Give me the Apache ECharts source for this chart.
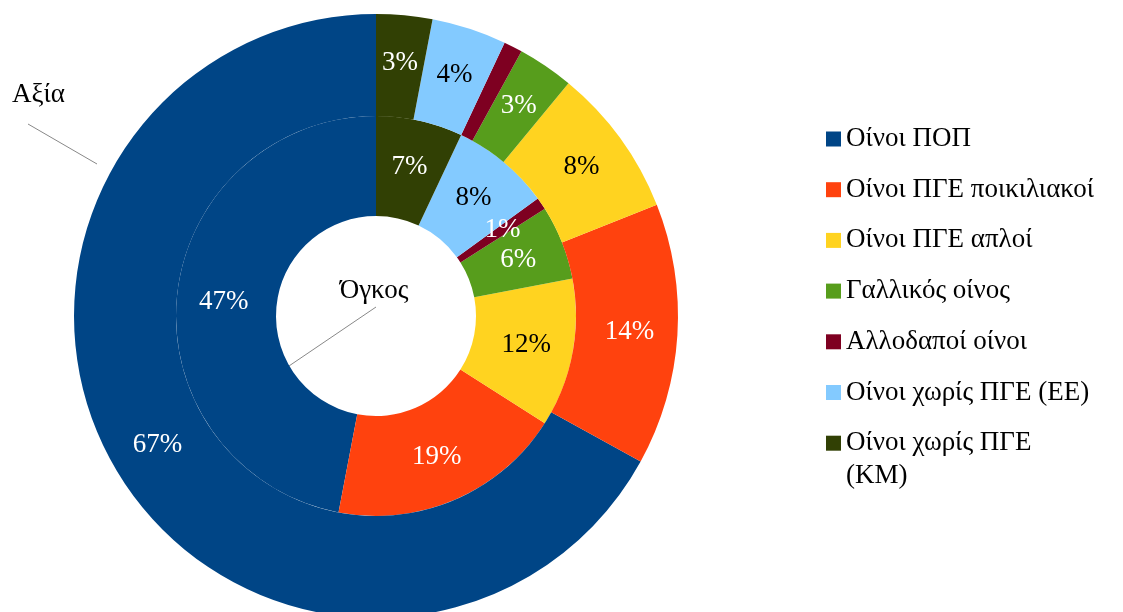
<!DOCTYPE html>
<html>
<head>
<meta charset="utf-8">
<script src="https://cdn.jsdelivr.net/npm/echarts@6/dist/echarts.min.js"></script>
<style>
html,body{margin:0;padding:0;background:#fff;}
#chart{width:1123px;height:612px;}
</style>
</head>
<body>
<div id="chart"></div>
<script>
var categories=['Οίνοι ΠΟΠ','Οίνοι ΠΓΕ ποικιλιακοί','Οίνοι ΠΓΕ απλοί','Γαλλικός οίνος','Αλλοδαποί οίνοι','Οίνοι χωρίς ΠΓΕ (ΕΕ)','Οίνοι χωρίς ΠΓΕ (ΚΜ)'];
var colors=['#004586','#ff420e','#ffd320','#579d1c','#7e0021','#83caff','#314004'];
var labelColors=['#fff','#fff','#000','#fff','#fff','#000','#fff'];
var volumeValues=[47,19,12,6,1,8,7];   // Όγκος (inner ring)
var valueValues=[67,14,8,3,1,4,3];     // Αξία (outer ring)

var font='Liberation Serif';
var fs=27;

function buildData(values){
	var arr=[];
	for(var i=0;i<values.length;i++){
		arr.push({
			name:categories[i],
			value:values[i],
			itemStyle:{color:colors[i]},
			label:{color:labelColors[i]}
		});
	}
	return arr;
}

function pieSeries(name,radius,values){
	return {
		name:name,
		type:'pie',
		center:[376,316],
		radius:radius,
		startAngle:90,
		clockwise:false,
		avoidLabelOverlap:false,
		label:{
			show:true,
			position:'inside',
			formatter:'{c}%',
			fontFamily:font,
			fontSize:fs
		},
		labelLine:{show:false},
		emphasis:{disabled:true},
		data:buildData(values)
	};
}

var mychart=echarts.init(document.getElementById('chart'));
var option={
	animation:false,
	legend:{
		orient:'vertical',
		left:821,
		top:116,
		itemWidth:15,
		itemHeight:15,
		itemGap:14.7,
		icon:'rect',
		textStyle:{fontFamily:font,fontSize:fs,color:'#000',lineHeight:36},
		formatter:function(name){
			//最后一项换行，第二行用graphic补上
			if(name=='Οίνοι χωρίς ΠΓΕ (ΚΜ)'){
				return 'Οίνοι χωρίς ΠΓΕ';
			}
			return name;
		},
		data:categories
	},
	graphic:[
		{type:'line',shape:{x1:28,y1:124,x2:97,y2:164},style:{stroke:'#888',lineWidth:1}},
		{type:'line',shape:{x1:376,y1:307,x2:286,y2:368},style:{stroke:'#888',lineWidth:1}},
		{type:'text',style:{x:12,y:95,text:'Αξία',fontFamily:font,fontSize:fs,fill:'#000',verticalAlign:'middle'}},
		{type:'text',style:{x:374,y:291,text:'Όγκος',fontFamily:font,fontSize:fs,fill:'#000',align:'center',verticalAlign:'middle'}},
		{type:'text',style:{x:846,y:476,text:'(ΚΜ)',fontFamily:font,fontSize:fs,fill:'#000',verticalAlign:'middle'}}
	],
	series:[
		pieSeries('Όγκος',[100,200],volumeValues),
		pieSeries('Αξία',[200,302],valueValues)
	]
};
mychart.setOption(option);
</script>
</body>
</html>
